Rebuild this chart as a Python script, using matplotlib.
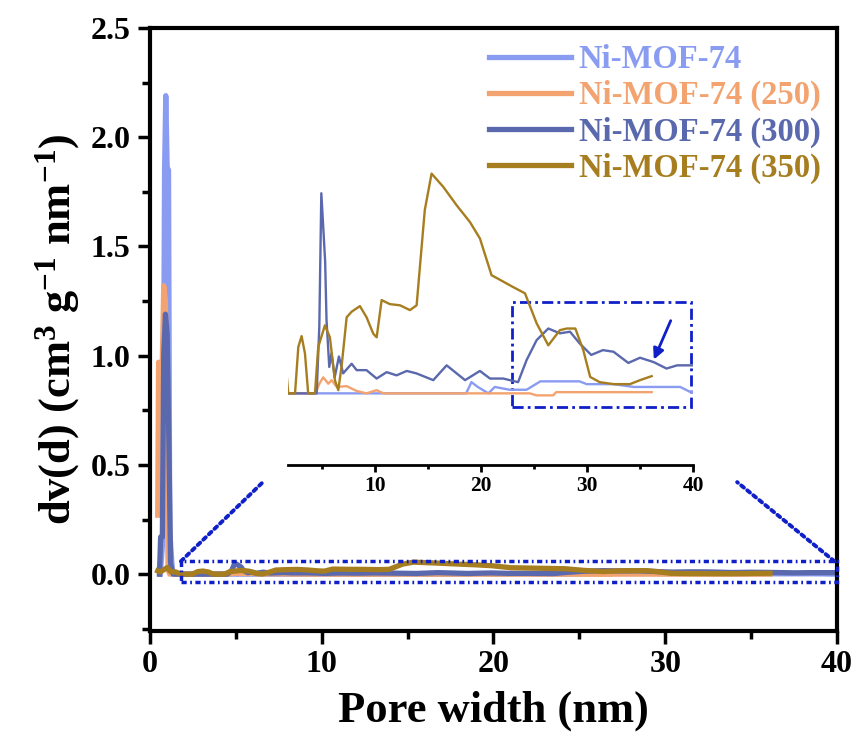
import numpy as np
import matplotlib
matplotlib.use('Agg')
import matplotlib.pyplot as plt
from matplotlib.patches import Rectangle, ConnectionPatch
from matplotlib.ticker import MultipleLocator

plt.rcParams['font.family'] = 'Liberation Serif'
plt.rcParams['font.weight'] = 'bold'
plt.rcParams['mathtext.fontset'] = 'custom'
plt.rcParams['mathtext.rm'] = 'Liberation Serif:bold'
plt.rcParams['mathtext.it'] = 'Liberation Serif:bold'
plt.rcParams['mathtext.bf'] = 'Liberation Serif:bold'

# (pore width nm, dv(d))
ni_mof74 = [(0.6, 0), (0.75, 0.16), (0.85, 1.85), (0.92, 2.19), (1.0, 1.86), (1.08, 1.85),
            (1.15, 0.2), (1.3, 0.02), (1.5, 0), (18.6, 0), (19.1, 0.0028), (19.7, 0.0016),
            (20.7, 0), (21.3, 0.0016), (22.7, 0.0009), (24.3, 0.0009), (25.6, 0.003),
            (29.3, 0.003), (29.97, 0.0023), (32.5, 0.0023), (34.4, 0.0016), (38.8, 0.0016),
            (39.7, 0.0004), (40.0, 0.0004)]

ni_mof74_250 = [(0.45, 0.27), (0.5, 0.97), (0.58, 0.85), (0.7, 0.9), (0.8, 1.32), (0.9, 1.25),
                (1.0, 0.6), (1.05, 0.02), (1.15, 0), (1.5, 0), (4.4, 0), (4.75, 0.0024),
                (5.12, 0.004), (5.6, 0.0024), (5.9, 0.0033), (6.4, 0.0016), (7.33, 0.0018),
                (8.27, 0.0006), (9.2, 0), (10.16, 0.0008), (10.8, 0), (24.6, 0),
                (25.25, -0.0005), (26.8, -0.0005), (27.1, 0.0003), (36.1, 0.0003)]

ni_mof74_300 = [(0.55, 0), (0.62, 0.17), (0.72, 0.17), (0.8, 1.0), (0.9, 1.19), (1.0, 1.1),
                (1.1, 0.6), (1.2, 0.05), (1.35, 0), (4.5, 0), (4.75, 0.0166), (4.94, 0.05),
                (5.12, 0.0416), (5.3, 0.033), (5.43, 0.0183), (5.69, 0.0066), (5.9, 0.01),
                (6.2, 0.004), (6.6, 0.0092), (7.0, 0.005), (7.33, 0.006), (7.8, 0.0074),
                (8.27, 0.0058), (9.2, 0.0058), (10.16, 0.0037), (11.1, 0.0053), (12.04, 0.0045),
                (13.0, 0.0056), (13.9, 0.005), (15.5, 0.0033), (16.76, 0.007), (17.7, 0.005),
                (18.5, 0.0033), (19.9, 0.0056), (20.85, 0.0037), (22.1, 0.0037), (23.5, 0.0028),
                (24.3, 0.0083), (25.25, 0.0133), (26.35, 0.0162), (27.45, 0.015), (28.4, 0.0154),
                (29.3, 0.0125), (30.4, 0.0096), (31.5, 0.0108), (32.5, 0.0104), (33.9, 0.0076),
                (35.0, 0.0089), (36.3, 0.0078), (37.5, 0.0062), (38.5, 0.007), (40.0, 0.007)]

ni_mof74_350 = [(0.45, 0.015), (0.6, 0.01), (0.8, 0.02), (1.0, 0.03), (1.2, 0.012), (1.5, 0.01),
                (1.82, 0), (2.46, 0), (2.77, 0.0116), (3.08, 0.0143), (3.4, 0.0099), (3.7, 0),
                (4.34, 0), (4.65, 0.0116), (5.28, 0.017), (5.75, 0.014), (6.22, 0.0033),
                (6.54, 0.0008), (6.85, 0.0067), (7.33, 0.019), (7.8, 0.0204), (8.58, 0.0218),
                (9.21, 0.019), (9.84, 0.0149), (10.16, 0.014), (10.63, 0.0233), (11.4, 0.0223),
                (12.36, 0.022), (13.3, 0.0208), (13.93, 0.022), (14.7, 0.0458), (15.34, 0.0549),
                (16.44, 0.0516), (17.7, 0.047), (18.96, 0.0428), (19.9, 0.0387), (21.0, 0.0295),
                (21.5, 0.0288), (23.0, 0.0266), (24.15, 0.025), (25.25, 0.0175), (26.35, 0.012),
                (27.45, 0.0158), (28.1, 0.0162), (28.9, 0.0162), (29.65, 0.0108), (30.3, 0.0041),
                (31.2, 0.0028), (32.5, 0.0023), (34.05, 0.0023), (35.0, 0.0033), (36.1, 0.0043)]

labels = ['Ni-MOF-74', 'Ni-MOF-74 (250)', 'Ni-MOF-74 (300)', 'Ni-MOF-74 (350)']
colors = ['#8A9BF2', '#F3A36F', '#5A68AD', '#A67E1F']
series = [ni_mof74, ni_mof74_250, ni_mof74_300, ni_mof74_350]
blue = '#1020C8'

fig = plt.figure(figsize=(8.58, 7.36), dpi=100)
ax = fig.add_axes([0.1748, 0.1427, 0.8007, 0.8193])

for data, lab, c in zip(series, labels, colors):
    d = np.array(data)
    ax.plot(d[:, 0], d[:, 1], color=c, lw=3.8, label=lab)

ax.set_xlim(0, 40)
ax.set_ylim(-0.26, 2.5)
ax.xaxis.set_major_locator(MultipleLocator(10))
ax.xaxis.set_minor_locator(MultipleLocator(5))
ax.yaxis.set_major_locator(MultipleLocator(0.5))
ax.yaxis.set_minor_locator(MultipleLocator(0.25))
ax.tick_params(which='major', direction='out', length=9, width=2.5, labelsize=23, pad=5)
ax.tick_params(which='minor', direction='out', length=6, width=2.5)
for s in ax.spines.values():
    s.set_linewidth(3)
ax.set_xlabel('Pore width (nm)', fontsize=32, fontweight='bold', labelpad=8)
ax.set_ylabel('dv(d) (cm$^3$ g$^{-1}$ nm$^{-1}$)', fontsize=32, fontweight='bold', labelpad=6)

ax.legend(loc='upper right', frameon=False, fontsize=23.5, labelcolor='linecolor',
          handlelength=2.5, handletextpad=0.25, labelspacing=0.15,
          borderaxespad=0.3, borderpad=0.2)

# zoom box on the main axes
ax.add_patch(Rectangle((1.8, -0.037), 38.2, 0.096, fill=False, ec=blue, lw=2.5,
                       ls=(0, (1.5, 1, 0.5, 1)), clip_on=False, zorder=5))

# inset
axin = fig.add_axes([0.3357, 0.3682, 0.472, 0.4008])
axin.patch.set_visible(False)
for data, c in zip(series, colors):
    d = np.array(data)
    axin.plot(d[:, 0], d[:, 1], color=c, lw=1.7)
axin.set_xlim(1.8, 40)
axin.set_ylim(-0.0179, 0.0558)
for side in ['left', 'right', 'top']:
    axin.spines[side].set_visible(False)
axin.spines['bottom'].set_linewidth(2)
axin.set_yticks([])
axin.xaxis.set_major_locator(MultipleLocator(10))
axin.xaxis.set_minor_locator(MultipleLocator(5))
axin.tick_params(which='major', direction='out', length=5, width=2, labelsize=15.5, pad=3)
axin.tick_params(which='minor', direction='out', length=3, width=2)

axin.add_patch(Rectangle((22.9, -0.0035), 16.9, 0.0263, fill=False, ec=blue, lw=2,
                         ls=(0, (4, 1.5, 1, 1.5)), clip_on=False))
axin.annotate('', xy=(36.2, 0.0078), xytext=(38.0, 0.0188),
              arrowprops=dict(arrowstyle='-|>', color=blue, lw=2, mutation_scale=16))

# dotted connectors from zoom box to inset
for xa, xb in [(1.8, -0.062), (39.85, 1.109)]:
    con = ConnectionPatch(xyA=(xa, 0.059), coordsA=ax.transData,
                          xyB=(xb, -0.058), coordsB=axin.transAxes,
                          color=blue, lw=2.8, ls=(0, (0.9, 1.1)))
    fig.add_artist(con)

fig.savefig('out.png', dpi=100)
